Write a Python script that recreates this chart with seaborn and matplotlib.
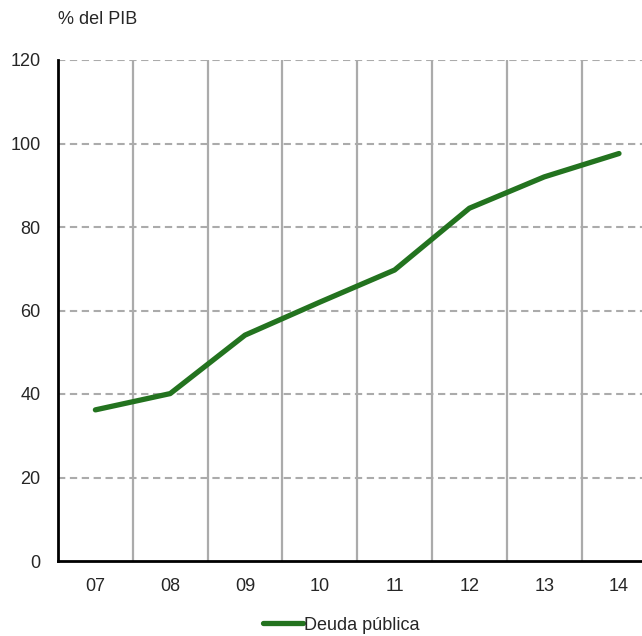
import matplotlib
matplotlib.use("Agg")
import matplotlib.pyplot as plt
import seaborn as sns
import pandas as pd
import numpy as np
from matplotlib.ticker import FixedLocator, NullFormatter

years = ["07", "08", "09", "10", "11", "12", "13", "14"]
deuda = [36.2, 40.1, 54.1, 62.0, 69.7, 84.5, 92.0, 97.6]
yticks = [0, 20, 40, 60, 80, 100, 120]
series_name = "Deuda pública"

sns.set_style("white")
plt.rcParams["font.family"] = ["Liberation Sans", "DejaVu Sans"]
FS = 13

df = pd.DataFrame({"pos": np.arange(len(years)), "valor": deuda, "serie": series_name})

fig = plt.figure(figsize=(6.42, 6.36), dpi=100)
left = 58 / 642
bottom = (636 - 561) / 636
width = 8 * 74.8 / 642
height = (561 - 60) / 636
ax = fig.add_axes([left, bottom, width, height])

gridc = "#ababab"
for v in yticks[1:]:
    ax.axhline(v, color=gridc, lw=1.5, ls=(0, (3.5, 2.2)), zorder=1)
for b in np.arange(0.5, len(years) - 0.5 + 1, 1.0):
    ax.axvline(b, color=gridc, lw=1.6, zorder=1)

sns.lineplot(data=df, x="pos", y="valor", hue="serie", palette=["#23731f"],
             lw=3.8, ax=ax, zorder=3, legend=True)

ax.set_xlim(-0.5, len(years) - 0.5)
ax.set_ylim(0, 120)
ax.set_yticks(yticks)
ax.set_yticklabels([str(v) for v in yticks], fontsize=FS)
ax.xaxis.set_major_locator(FixedLocator(np.arange(-0.5, len(years), 1.0)))
ax.xaxis.set_major_formatter(NullFormatter())
ax.xaxis.set_minor_locator(FixedLocator(np.arange(len(years))))
ax.set_xticklabels(years, minor=True, fontsize=FS)
ax.tick_params(axis="x", which="major", direction="inout", length=11, width=1.5, color="black")
ax.tick_params(axis="x", which="minor", length=0, pad=12)
ax.tick_params(axis="y", direction="in", length=5, width=1.5, pad=12.5, color="black")
ax.set_xlabel("")
ax.set_ylabel("")

for s in ["top", "right"]:
    ax.spines[s].set_visible(False)
for s in ["left", "bottom"]:
    ax.spines[s].set_color("black")
    ax.spines[s].set_linewidth(2)
    ax.spines[s].set_zorder(4)

fig.text(58 / 642, 1 - 20 / 636, "% del PIB", fontsize=FS, va="center", ha="left")

leg = ax.get_legend()
if leg is not None:
    leg.remove()
handles, labels = ax.get_legend_handles_labels()
fig.legend(handles, labels, loc="center", bbox_to_anchor=(341 / 642, 1 - 625 / 636),
           frameon=False, fontsize=FS, handlelength=2.2, handletextpad=0.05)

fig.savefig("out.png", dpi=100)
